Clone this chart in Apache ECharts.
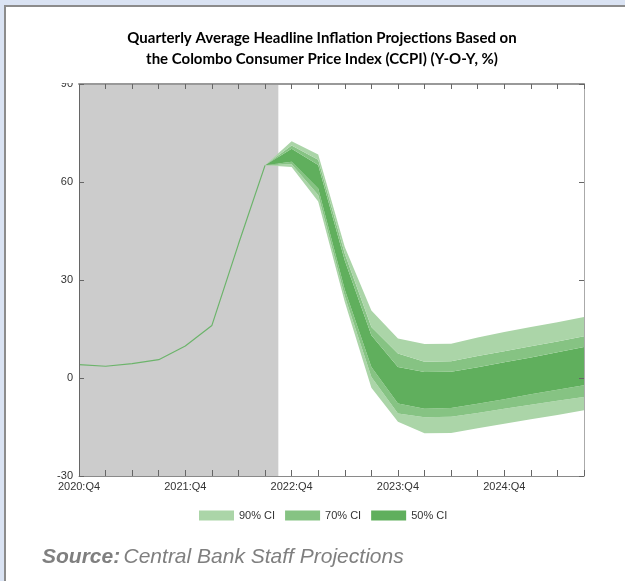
<!DOCTYPE html>
<html>
<head>
<meta charset="utf-8">
<script src="https://cdn.jsdelivr.net/npm/echarts@6/dist/echarts.min.js"></script>
<style>
html,body{margin:0;padding:0;background:#ffffff;}
#chart{width:625px;height:581px;}
</style>
</head>
<body>
<div id="chart"></div>
<script>
// ---- data ----
const quarters = ['2020:Q4','2021:Q1','2021:Q2','2021:Q3','2021:Q4','2022:Q1','2022:Q2','2022:Q3','2022:Q4',
  '2023:Q1','2023:Q2','2023:Q3','2023:Q4','2024:Q1','2024:Q2','2024:Q3','2024:Q4','2025:Q1','2025:Q2','2025:Q3'];
const actual = [4.1, 3.6, 4.4, 5.6, 9.8, 16.1, 41.0, 65.1];
const historyEnd = 7.5;            // shaded history region ends between 2022:Q3 and 2022:Q4
const fanStart = 7;                // index of first projection point (2022:Q3)
const lower90 = [65.1, 64.6, 54.0, 23.3, -3.0, -13.4, -16.9, -16.8, -15.4, -14.0, -12.6, -11.3, -9.9];
const lower70 = [65.1, 65.4, 56.0, 25.0,  0.3, -10.9, -12.0, -11.9, -10.7,  -9.4,  -8.2,  -7.0, -5.8];
const lower50 = [65.1, 66.2, 58.0, 27.0,  3.4,  -7.8,  -9.4,  -9.2,  -7.9,  -6.5,  -5.0,  -3.6, -2.2];
const upper50 = [65.1, 70.2, 65.2, 36.0, 13.1,   3.4,   1.8,   1.9,   3.3,   4.8,   6.3,   7.9,  9.5];
const upper70 = [65.1, 71.2, 66.8, 38.0, 15.6,   7.5,   5.0,   5.1,   6.7,   8.2,   9.7,  11.2, 12.8];
const upper90 = [65.1, 72.5, 68.4, 40.1, 20.7,  12.1,  10.4,  10.5,  12.4,  14.1,  15.6,  17.1, 18.7];
const yTicks = [-30, 0, 30, 60, 90];
const legendNames = ['90% CI', '70% CI', '50% CI'];
const titleLines = ['Quarterly Average Headline Inflation Projections Based on',
  'the Colombo Consumer Price Index (CCPI) (Y-O-Y, %)'];

// ---- styles ----
const cLight = '#abd5a8', cMid = '#86c383', cDark = '#60af5d', cLine = '#6cb46b';

function pad(arr) { // place projection values on the full quarter axis
  return quarters.map((q, i) => (i >= fanStart && i - fanStart < arr.length) ? arr[i - fanStart] : '-');
}
function diffSeries(a, b) { // b - a as stacked increments
  return pad(a.map((v, i) => +(b[i] - v).toFixed(2)));
}
function band(name, color, data) {
  return {
    name: name, type: 'line', stack: 'fan', stackStrategy: 'all', data: data,
    symbol: 'none', lineStyle: { width: 0, color: color }, itemStyle: { color: color },
    areaStyle: { color: color, opacity: 1 }, z: 3, silent: true
  };
}

const chart = echarts.init(document.getElementById('chart'), null, { renderer: 'canvas' });
const axisFont = { fontFamily: 'Liberation Sans, Arial, sans-serif', fontSize: 11, color: '#333' };
const lineCol = '#8a8a8a';

const option = {
  animation: false,
  backgroundColor: '#ffffff',
  grid: { left: 79, right: 41, top: 84, bottom: 105, containLabel: false },
  legend: {
    data: legendNames, left: 199, top: 510, padding: 0, icon: 'rect', itemWidth: 35, itemHeight: 10, itemGap: 10,
    textStyle: { fontFamily: 'Liberation Sans, Arial, sans-serif', fontSize: 11, color: '#333' }
  },
  xAxis: [{
    type: 'category', data: quarters, boundaryGap: false, position: 'bottom', z: 10,
    axisLine: { show: true, onZero: false, lineStyle: { color: lineCol, width: 1 } },
    axisTick: { show: true, inside: true, interval: 0, length: 6, lineStyle: { color: '#666' } },
    axisLabel: { ...axisFont, margin: 5, interval: 3,
      formatter: (v, i) => (i < quarters.length - 1) ? v : '' },
    splitLine: { show: false }
  }, {
    type: 'value', min: 0, max: quarters.length - 1, interval: 1, position: 'top', z: 10,
    axisLine: { show: true, onZero: false, lineStyle: { color: '#999', width: 2 } },
    axisTick: { show: true, inside: true, length: 5, lineStyle: { color: '#666' } },
    axisLabel: { show: false }, splitLine: { show: false }
  }],
  yAxis: [{
    type: 'value', min: yTicks[0], max: yTicks[yTicks.length - 1], interval: 30, position: 'left', z: 10,
    axisLine: { show: true, onZero: false, lineStyle: { color: '#666', width: 1 } },
    axisTick: { show: true, inside: true, length: 5, lineStyle: { color: '#666' } },
    axisLabel: { ...axisFont, fontSize: 11, margin: 6 },
    splitLine: { show: false }
  }, {
    type: 'value', min: yTicks[0], max: yTicks[yTicks.length - 1], interval: 30, position: 'right', z: 10,
    axisLine: { show: true, onZero: false, lineStyle: { color: '#aaa', width: 1 } },
    axisTick: { show: true, inside: true, length: 5, lineStyle: { color: '#666' } },
    axisLabel: { show: false }, splitLine: { show: false }
  }],
  series: [
    {
      name: 'history-shade', type: 'line', xAxisIndex: 1, data: [], z: 0, silent: true,
      markArea: { silent: true, itemStyle: { color: '#cccccc' }, data: [[{ xAxis: 0 }, { xAxis: historyEnd }]] }
    },
    { name: 'base', type: 'line', stack: 'fan', stackStrategy: 'all', symbol: 'none',
      data: pad(lower90), lineStyle: { width: 0, opacity: 0 }, z: 3, silent: true },
    band(legendNames[0], cLight, diffSeries(lower90, lower70)),
    band(legendNames[1], cMid, diffSeries(lower70, lower50)),
    band(legendNames[2], cDark, diffSeries(lower50, upper50)),
    band(legendNames[1], cMid, diffSeries(upper50, upper70)),
    band(legendNames[0], cLight, diffSeries(upper70, upper90)),
    {
      name: 'actual', type: 'line', symbol: 'none', data: actual,
      lineStyle: { color: cLine, width: 1.2 }, z: 4, silent: true
    }
  ],
  graphic: [
    { type: 'rect', left: 0, top: 0, shape: { width: 625, height: 5 }, style: { fill: '#dae3f3' }, z: 100 },
    { type: 'rect', left: 0, top: 0, shape: { width: 4, height: 581 }, style: { fill: '#dae3f3' }, z: 100 },
    { type: 'rect', left: 4, top: 5, shape: { width: 621, height: 2 }, style: { fill: '#8c8c8c' }, z: 101 },
    { type: 'rect', left: 4, top: 5, shape: { width: 2, height: 576 }, style: { fill: '#8c8c8c' }, z: 101 },
    { type: 'rect', left: 50, top: 70, shape: { width: 27, height: 13 }, style: { fill: '#ffffff' }, z: 100 },
    {
      type: 'text', x: 322, y: 28, z: 100,
      style: { text: titleLines.join('\n'), textAlign: 'center', textVerticalAlign: 'top',
        font: 'bold 15px Lato, "Open Sans", sans-serif', fill: '#000', lineHeight: 21 }
    },
    {
      type: 'text', x: 42, y: 557, z: 100,
      style: {
        text: '{b|Source:} {n|Central Bank Staff Projections}', textVerticalAlign: 'middle',
        rich: {
          b: { font: 'italic bold 21px "Liberation Sans", Arial, sans-serif', fill: '#7f7f7f' },
          n: { font: 'italic 21px "Liberation Sans", Arial, sans-serif', fill: '#7f7f7f' }
        }
      }
    }
  ]
};
chart.setOption(option);
</script>
</body>
</html>
